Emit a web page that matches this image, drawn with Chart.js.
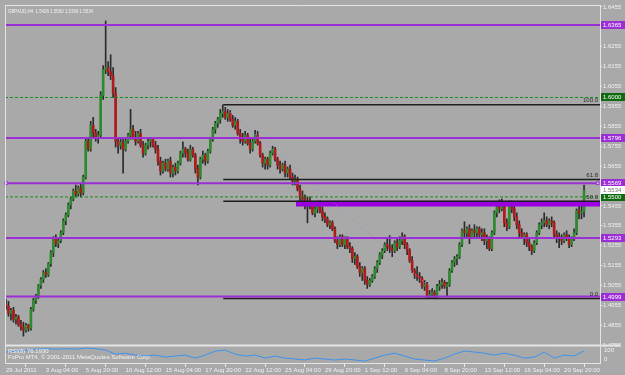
<!DOCTYPE html>
<html>
<head>
<meta charset="utf-8">
<script src="https://cdn.jsdelivr.net/npm/chart.js@4/dist/chart.umd.min.js"></script>
<style>
  html, body { margin: 0; padding: 0; background: #a9a9a9; }
  #wrap { width: 625px; height: 375px; position: relative; }
</style>
</head>
<body>
<div id="wrap"><canvas id="myChart"></canvas></div>
<script>
// ==========================================
// Data (GBPAUD H4)
// ==========================================

const symbolName = "GBPAUD,H4";

const opens = [
  1.4960,1.4950,1.4915,1.4930,1.4885,1.4895,1.4860,1.4845,1.4830,1.4855,
  1.4840,1.4935,1.4980,1.5000,1.5055,1.5085,1.5120,1.5110,1.5165,1.5220,
  1.5290,1.5265,1.5280,1.5320,1.5380,1.5410,1.5460,1.5490,1.5530,1.5515,
  1.5545,1.5520,1.5600,1.5780,1.5740,1.5860,1.5820,1.5800,1.5810,1.6010,
  1.6140,1.6150,1.6130,1.6110,1.6020,1.5780,1.5760,1.5775,1.5740,1.5780,
  1.5810,1.5840,1.5800,1.5780,1.5820,1.5760,1.5720,1.5760,1.5780,1.5790,
  1.5760,1.5740,1.5680,1.5630,1.5670,1.5640,1.5680,1.5620,1.5650,1.5630,
  1.5670,1.5720,1.5740,1.5720,1.5690,1.5740,1.5710,1.5640,1.5600,1.5690,
  1.5710,1.5680,1.5730,1.5790,1.5840,1.5870,1.5890,1.5920,1.5930,1.5900,
  1.5920,1.5890,1.5860,1.5880,1.5820,1.5790,1.5780,1.5810,1.5770,1.5740,
  1.5780,1.5810,1.5770,1.5710,1.5670,1.5690,1.5660,1.5720,1.5740,1.5690,
  1.5660,1.5640,1.5660,1.5620,1.5640,1.5600,1.5580,1.5590,1.5540,1.5500,
  1.5490,1.5460,1.5480,1.5460,1.5420,1.5440,1.5450,1.5430,1.5400,1.5390,
  1.5360,1.5370,1.5340,1.5280,1.5260,1.5300,1.5260,1.5290,1.5250,1.5240,
  1.5190,1.5200,1.5150,1.5120,1.5140,1.5080,1.5060,1.5080,1.5100,1.5140,
  1.5170,1.5210,1.5230,1.5260,1.5250,1.5240,1.5230,1.5270,1.5250,1.5280,
  1.5300,1.5260,1.5230,1.5180,1.5130,1.5110,1.5100,1.5090,1.5050,1.5060,
  1.5000,1.5010,1.5020,1.5000,1.5050,1.5060,1.5070,1.5050,1.5060,1.5130,
  1.5170,1.5190,1.5200,1.5260,1.5330,1.5320,1.5340,1.5300,1.5330,1.5320,
  1.5340,1.5310,1.5320,1.5280,1.5290,1.5240,1.5320,1.5420,1.5450,1.5440,
  1.5460,1.5370,1.5350,1.5460,1.5440,1.5400,1.5360,1.5320,1.5300,1.5310,
  1.5270,1.5250,1.5230,1.5270,1.5320,1.5360,1.5370,1.5380,1.5360,1.5380,
  1.5370,1.5310,1.5300,1.5290,1.5280,1.5310,1.5290,1.5260,1.5290,1.5320,
  1.5430,1.5420,1.5426
];

const highs = [
  1.4985,1.4975,1.4940,1.4945,1.4910,1.4905,1.4880,1.4870,1.4865,1.4860,
  1.4945,1.4990,1.5010,1.5060,1.5095,1.5130,1.5140,1.5170,1.5230,1.5300,
  1.5310,1.5290,1.5330,1.5390,1.5420,1.5470,1.5500,1.5540,1.5560,1.5555,
  1.5570,1.5610,1.5790,1.5800,1.5880,1.5900,1.5840,1.5830,1.6030,1.6160,
  1.6385,1.6180,1.6215,1.6150,1.6050,1.5800,1.5790,1.5790,1.5790,1.5820,
  1.5940,1.5860,1.5830,1.5830,1.5840,1.5780,1.5770,1.5790,1.5800,1.5800,
  1.5780,1.5760,1.5700,1.5680,1.5690,1.5690,1.5700,1.5660,1.5670,1.5680,
  1.5730,1.5777,1.5750,1.5740,1.5760,1.5750,1.5720,1.5660,1.5700,1.5730,
  1.5720,1.5740,1.5800,1.5850,1.5880,1.5900,1.5940,1.5963,1.5950,1.5940,
  1.5935,1.5910,1.5900,1.5890,1.5840,1.5820,1.5830,1.5820,1.5800,1.5790,
  1.5835,1.5830,1.5780,1.5720,1.5700,1.5700,1.5730,1.5755,1.5750,1.5700,
  1.5680,1.5670,1.5680,1.5650,1.5660,1.5620,1.5610,1.5600,1.5560,1.5530,
  1.5510,1.5500,1.5500,1.5470,1.5450,1.5460,1.5480,1.5450,1.5420,1.5400,
  1.5380,1.5380,1.5350,1.5300,1.5310,1.5310,1.5300,1.5300,1.5270,1.5250,
  1.5220,1.5210,1.5170,1.5150,1.5150,1.5100,1.5090,1.5110,1.5150,1.5180,
  1.5220,1.5240,1.5270,1.5290,1.5305,1.5260,1.5280,1.5290,1.5300,1.5320,
  1.5310,1.5270,1.5240,1.5200,1.5140,1.5150,1.5120,1.5100,1.5080,1.5070,
  1.5030,1.5040,1.5030,1.5060,1.5080,1.5090,1.5080,1.5070,1.5140,1.5180,
  1.5200,1.5210,1.5270,1.5340,1.5375,1.5350,1.5360,1.5340,1.5360,1.5350,
  1.5350,1.5340,1.5340,1.5310,1.5300,1.5330,1.5430,1.5470,1.5485,1.5490,
  1.5470,1.5390,1.5480,1.5480,1.5460,1.5420,1.5380,1.5340,1.5320,1.5320,
  1.5290,1.5260,1.5280,1.5330,1.5370,1.5390,1.5420,1.5400,1.5390,1.5400,
  1.5380,1.5330,1.5320,1.5310,1.5320,1.5330,1.5310,1.5300,1.5340,1.5440,
  1.5460,1.5470,1.5560
];

const lows = [
  1.4935,1.4900,1.4880,1.4870,1.4860,1.4850,1.4830,1.4800,1.4820,1.4825,
  1.4830,1.4925,1.4965,1.4990,1.5040,1.5070,1.5095,1.5100,1.5150,1.5200,
  1.5250,1.5245,1.5270,1.5310,1.5360,1.5400,1.5440,1.5480,1.5500,1.5505,
  1.5500,1.5510,1.5590,1.5730,1.5730,1.5800,1.5780,1.5770,1.5800,1.5990,
  1.6120,1.6110,1.6090,1.6000,1.5750,1.5720,1.5740,1.5620,1.5730,1.5770,
  1.5790,1.5790,1.5760,1.5770,1.5750,1.5700,1.5710,1.5740,1.5750,1.5750,
  1.5720,1.5660,1.5610,1.5620,1.5630,1.5630,1.5600,1.5600,1.5610,1.5620,
  1.5660,1.5700,1.5700,1.5680,1.5680,1.5700,1.5620,1.5560,1.5590,1.5670,
  1.5660,1.5670,1.5720,1.5780,1.5820,1.5850,1.5870,1.5900,1.5890,1.5880,
  1.5880,1.5850,1.5840,1.5810,1.5770,1.5760,1.5770,1.5760,1.5720,1.5730,
  1.5770,1.5760,1.5700,1.5650,1.5640,1.5640,1.5650,1.5710,1.5680,1.5640,
  1.5620,1.5630,1.5600,1.5600,1.5590,1.5560,1.5560,1.5530,1.5480,1.5470,
  1.5440,1.5370,1.5440,1.5410,1.5400,1.5420,1.5420,1.5380,1.5370,1.5350,
  1.5340,1.5330,1.5270,1.5240,1.5250,1.5250,1.5240,1.5240,1.5220,1.5170,
  1.5160,1.5140,1.5100,1.5080,1.5060,1.5040,1.5050,1.5070,1.5090,1.5120,
  1.5160,1.5190,1.5220,1.5230,1.5220,1.5200,1.5220,1.5230,1.5240,1.5260,
  1.5240,1.5210,1.5170,1.5120,1.5090,1.5080,1.5070,1.5040,1.5030,1.4990,
  1.4989,1.4995,1.4990,1.4990,1.5030,1.5040,1.5040,1.5000,1.5050,1.5120,
  1.5150,1.5160,1.5190,1.5250,1.5300,1.5290,1.5265,1.5290,1.5300,1.5290,
  1.5300,1.5280,1.5260,1.5240,1.5230,1.5230,1.5310,1.5400,1.5420,1.5430,
  1.5350,1.5330,1.5340,1.5420,1.5380,1.5340,1.5300,1.5290,1.5260,1.5250,
  1.5230,1.5210,1.5220,1.5260,1.5310,1.5340,1.5350,1.5350,1.5340,1.5350,
  1.5290,1.5270,1.5245,1.5260,1.5270,1.5280,1.5245,1.5250,1.5280,1.5310,
  1.5390,1.5390,1.5399
];

const closes = [
  1.4950,1.4915,1.4930,1.4885,1.4895,1.4860,1.4845,1.4830,1.4855,1.4840,
  1.4935,1.4980,1.5000,1.5055,1.5085,1.5120,1.5110,1.5165,1.5220,1.5290,
  1.5265,1.5280,1.5320,1.5380,1.5410,1.5460,1.5490,1.5530,1.5515,1.5545,
  1.5520,1.5600,1.5780,1.5740,1.5860,1.5820,1.5800,1.5810,1.6010,1.6140,
  1.6150,1.6130,1.6110,1.6020,1.5780,1.5760,1.5775,1.5740,1.5780,1.5810,
  1.5840,1.5800,1.5780,1.5820,1.5760,1.5720,1.5760,1.5780,1.5790,1.5760,
  1.5740,1.5680,1.5630,1.5670,1.5640,1.5680,1.5620,1.5650,1.5630,1.5670,
  1.5720,1.5740,1.5720,1.5690,1.5740,1.5710,1.5640,1.5600,1.5690,1.5710,
  1.5680,1.5730,1.5790,1.5840,1.5870,1.5890,1.5920,1.5930,1.5900,1.5920,
  1.5890,1.5860,1.5880,1.5820,1.5790,1.5780,1.5810,1.5770,1.5740,1.5780,
  1.5810,1.5770,1.5710,1.5670,1.5690,1.5660,1.5720,1.5740,1.5690,1.5660,
  1.5640,1.5660,1.5620,1.5640,1.5600,1.5580,1.5590,1.5540,1.5500,1.5490,
  1.5460,1.5480,1.5460,1.5420,1.5440,1.5450,1.5430,1.5400,1.5390,1.5360,
  1.5370,1.5340,1.5280,1.5260,1.5300,1.5260,1.5290,1.5250,1.5240,1.5190,
  1.5200,1.5150,1.5120,1.5140,1.5080,1.5060,1.5080,1.5100,1.5140,1.5170,
  1.5210,1.5230,1.5260,1.5250,1.5240,1.5230,1.5270,1.5250,1.5280,1.5300,
  1.5260,1.5230,1.5180,1.5130,1.5110,1.5100,1.5090,1.5050,1.5060,1.5000,
  1.5010,1.5020,1.5000,1.5050,1.5060,1.5070,1.5050,1.5060,1.5130,1.5170,
  1.5190,1.5200,1.5260,1.5330,1.5320,1.5340,1.5300,1.5330,1.5320,1.5340,
  1.5310,1.5320,1.5280,1.5290,1.5240,1.5320,1.5420,1.5450,1.5440,1.5460,
  1.5370,1.5350,1.5460,1.5440,1.5400,1.5360,1.5320,1.5300,1.5310,1.5270,
  1.5250,1.5230,1.5270,1.5320,1.5360,1.5370,1.5380,1.5360,1.5380,1.5370,
  1.5310,1.5300,1.5290,1.5280,1.5310,1.5290,1.5260,1.5290,1.5320,1.5430,
  1.5420,1.5426,1.5534
];

// RSI(8), one reading every 4 bars
const rsiBars = [
  0,4,8,12,16,20,24,28,32,36,40,44,48,52,56,60,64,68,72,76,
  80,84,88,92,96,100,104,108,112,116,120,124,128,132,136,140,144,148,152,156,
  160,164,168,172,176,180,184,188,192,196,200,204,208,212,216,220,224,228,232
];
const rsiValues = [
  69,75,81,87,90,87,90,87,94,90,81,56,62,50,44,50,37,44,50,31,
  50,75,81,56,44,50,31,44,31,25,19,31,25,19,25,19,12,31,50,62,
  44,25,19,12,31,56,75,69,62,50,62,50,31,37,69,31,50,44,76
];
const rsiReading = "76.1930";

// x axis: label every 16 bars
const xTickBars = [0,16,32,48,64,80,96,112,128,144,160,176,192,208,224];
const xLabels = ["29 Jul 2011","3 Aug 04:00","5 Aug 20:00","10 Aug 12:00","15 Aug 04:00",
  "17 Aug 20:00","22 Aug 12:00","25 Aug 04:00","29 Aug 20:00","1 Sep 12:00",
  "6 Sep 04:00","8 Sep 20:00","13 Sep 12:00","16 Sep 04:00","20 Sep 20:00"];

const yTicks = [1.4755,1.4855,1.4955,1.5055,1.5155,1.5255,1.5355,1.5455,1.5555,
  1.5655,1.5755,1.5855,1.5955,1.6055,1.6155,1.6255,1.6355,1.6455];

// drawn objects
const purpleLevels = [1.6365, 1.5796, 1.5569, 1.5293, 1.4999];
const greenLevels = [1.6000, 1.5500];
const fibLevels = [1.5963, 1.5588, 1.5478, 1.4989];
const fibNames = ["100.0", "61.8", "50.0", "0.0"];
const fibStartBar = 87.2;
const bandLevels = [1.5478, 1.5452];
const bandStartBar = 116.4;
const trendBars = [89.2, 171.6];
const trendPrices = [1.5935, 1.5030];

// ==========================================
// Chart
// ==========================================

const X_MIN = -0.4, X_MAX = 238.4;
const last = closes.length - 1;
const bull = "#2f8a2f", bear = "#b01a1a";
const purple = "#9b2fd6";
const FONT = '"Liberation Sans", Arial, sans-serif';

function hline(y, x0, color, width, dash) {
   return {
      type: "line",
      data: [{x: x0, y: y}, {x: X_MAX, y: y}],
      borderColor: color,
      borderWidth: width,
      borderDash: dash || [],
      pointRadius: 0,
      order: 0
   };
}

let datasets = [];

datasets.push({
   type: "bar",
   data: highs.map((h, i) => ({x: i, y: [lows[i], h]})),
   backgroundColor: "#2b2b2b",
   barThickness: 1,
   grouped: false,
   order: 4
});
datasets.push({
   type: "bar",
   data: opens.map((o, i) => ({x: i, y: [o, closes[i]]})),
   backgroundColor: opens.map((o, i) => closes[i] >= o ? bull : bear),
   borderColor: "#262626",
   borderWidth: 0,
   barThickness: 2,
   minBarLength: 1,
   grouped: false,
   order: 3
});

// band (filled to its lower edge)
datasets.push({
   type: "line",
   data: [{x: bandStartBar, y: bandLevels[0]}, {x: X_MAX, y: bandLevels[0]}],
   borderColor: "#9a00e0",
   borderWidth: 1,
   backgroundColor: "#9a00e0",
   fill: {value: bandLevels[1]},
   pointRadius: 0,
   order: 2
});

greenLevels.forEach((v) => datasets.push(hline(v, X_MIN, "#168c16", 1, [3, 2])));
purpleLevels.forEach((v) => {
   let d = hline(v, X_MIN, purple, 2);
   if (v == 1.5569) {
      d.pointRadius = [2, 2];
      d.pointStyle = "rect";
      d.pointBorderColor = purple;
      d.pointBackgroundColor = "#d8c0f0";
      d.pointBorderWidth = 1;
      d.data = [{x: X_MIN + 0.5, y: v}, {x: X_MAX - 0.9, y: v}];
      d.clip = false;
   }
   datasets.push(d);
});
fibLevels.forEach((v) => datasets.push(hline(v, fibStartBar, "#1e1e1e", 1.5)));

datasets.push({
   type: "line",
   data: trendBars.map((b, i) => ({x: b, y: trendPrices[i]})),
   borderColor: "#b37ee0",
   borderWidth: 1,
   borderDash: [1, 2],
   pointRadius: 0,
   order: 1
});

datasets.push({
   type: "line",
   yAxisID: "rsi",
   data: rsiBars.map((b, i) => ({x: b, y: rsiValues[i]})),
   borderColor: "#3d93ee",
   borderWidth: 1,
   pointRadius: 0,
   clip: false,
   order: 0
});

const mtPlugin = {
   id: "mt4",
   beforeDraw(chart) {
      const c = chart.ctx;
      c.save();
      c.fillStyle = "#a9a9a9";
      c.fillRect(0, 0, chart.width, chart.height);
      c.restore();
   },
   afterDraw(chart) {
      const c = chart.ctx;
      const a = chart.chartArea;
      const y = chart.scales.y;
      const rsi = chart.scales.rsi;
      c.save();
      // frame
      c.strokeStyle = "#e4e4e4";
      c.lineWidth = 1;
      c.beginPath();
      c.moveTo(a.left + 0.5, a.top);
      c.lineTo(a.left + 0.5, a.bottom);
      c.moveTo(a.left, a.top + 0.5);
      c.lineTo(a.right, a.top + 0.5);
      c.stroke();
      const sep = Math.round(rsi.getPixelForValue(100)) - 1.5;
      c.lineWidth = 2;
      c.beginPath();
      c.moveTo(a.left, sep);
      c.lineTo(a.right + 20, sep);
      c.stroke();

      // price boxes on the right axis
      c.font = "6px " + FONT;
      c.textBaseline = "middle";
      c.textAlign = "left";
      let boxes = [];
      purpleLevels.forEach((v) => boxes.push([v, purple, "#ffffff"]));
      greenLevels.forEach((v) => boxes.push([v, "#0f6a0f", "#ffffff"]));
      boxes.push([closes[last], "#ffffff", "#707070"]);
      boxes.forEach(([v, bg, fg]) => {
         const py = Math.round(y.getPixelForValue(v));
         c.fillStyle = bg;
         c.fillRect(a.right + 1, py - 4, 24, 8);
         c.fillStyle = fg;
         c.fillText(v.toFixed(4), a.right + 3, py + 0.5);
      });

      // fibo level names
      c.fillStyle = "#2a2a2a";
      c.textAlign = "right";
      c.textBaseline = "bottom";
      fibLevels.forEach((v, i) => {
         c.fillText(fibNames[i], a.right - 2, y.getPixelForValue(v) - 1);
      });

      // texts
      c.fillStyle = "#f2f2f2";
      c.textAlign = "left";
      c.textBaseline = "middle";
      c.fillText("RSI(8) " + rsiReading, a.left + 3, sep + 6);
      c.fillText("FxPro MT4, \u00a9 2001-2011 MetaQuotes Software Corp.", a.left + 3, sep + 12);
      c.fillText("100", a.right + 4, sep + 5);
      c.fillText("0", a.right + 4, a.bottom - 4);
      // header, squeezed like the narrow terminal font
      c.translate(a.left + 3, a.top + 6);
      c.scale(0.8, 1);
      c.font = "5.5px " + FONT;
      c.fillText(symbolName + "  " + opens[last].toFixed(4) + " " + highs[last].toFixed(4) +
         " " + lows[last].toFixed(4) + " " + closes[last].toFixed(4), 0, 0);
      c.restore();
   }
};

const ctx = document.getElementById("myChart");

let chart = new Chart(ctx, {
   type: "bar",
   data: {datasets: datasets},
   plugins: [mtPlugin],
   options: {
      responsive: true,
      maintainAspectRatio: false,
      animation: false,
      devicePixelRatio: 1,
      layout: {padding: {left: 3, top: 2, right: 0, bottom: 0}},
      plugins: {legend: {display: false}, tooltip: {enabled: false}},
      scales: {
         x: {
            type: "linear",
            min: X_MIN,
            max: X_MAX,
            offset: false,
            afterBuildTicks: (s) => { s.ticks = xTickBars.map((b) => ({value: b})); },
            afterFit: (s) => { s.height = 12; },
            ticks: {
               autoSkip: false,
               maxRotation: 0,
               minRotation: 0,
               align: "start",
               padding: 0,
               color: "#f2f2f2",
               font: {size: 6, family: FONT},
               callback: (v) => xLabels[xTickBars.indexOf(v)]
            },
            grid: {drawOnChartArea: false, tickLength: 4, color: "#e8e8e8"},
            border: {color: "#e4e4e4"}
         },
         y: {
            position: "right",
            min: 1.4665,
            max: 1.6465,
            afterBuildTicks: (s) => { s.ticks = yTicks.map((v) => ({value: v})); },
            afterFit: (s) => { s.width = 25; },
            ticks: {
               padding: 1,
               color: "#f2f2f2",
               font: {size: 6, family: FONT},
               callback: (v) => v.toFixed(4)
            },
            grid: {drawOnChartArea: false, tickLength: 2, color: "#e8e8e8"},
            border: {color: "#e4e4e4"}
         },
         rsi: {
            type: "linear",
            axis: "y",
            position: "right",
            display: false,
            min: 0,
            max: 2256
         }
      }
   }
});
</script>
</body>
</html>
